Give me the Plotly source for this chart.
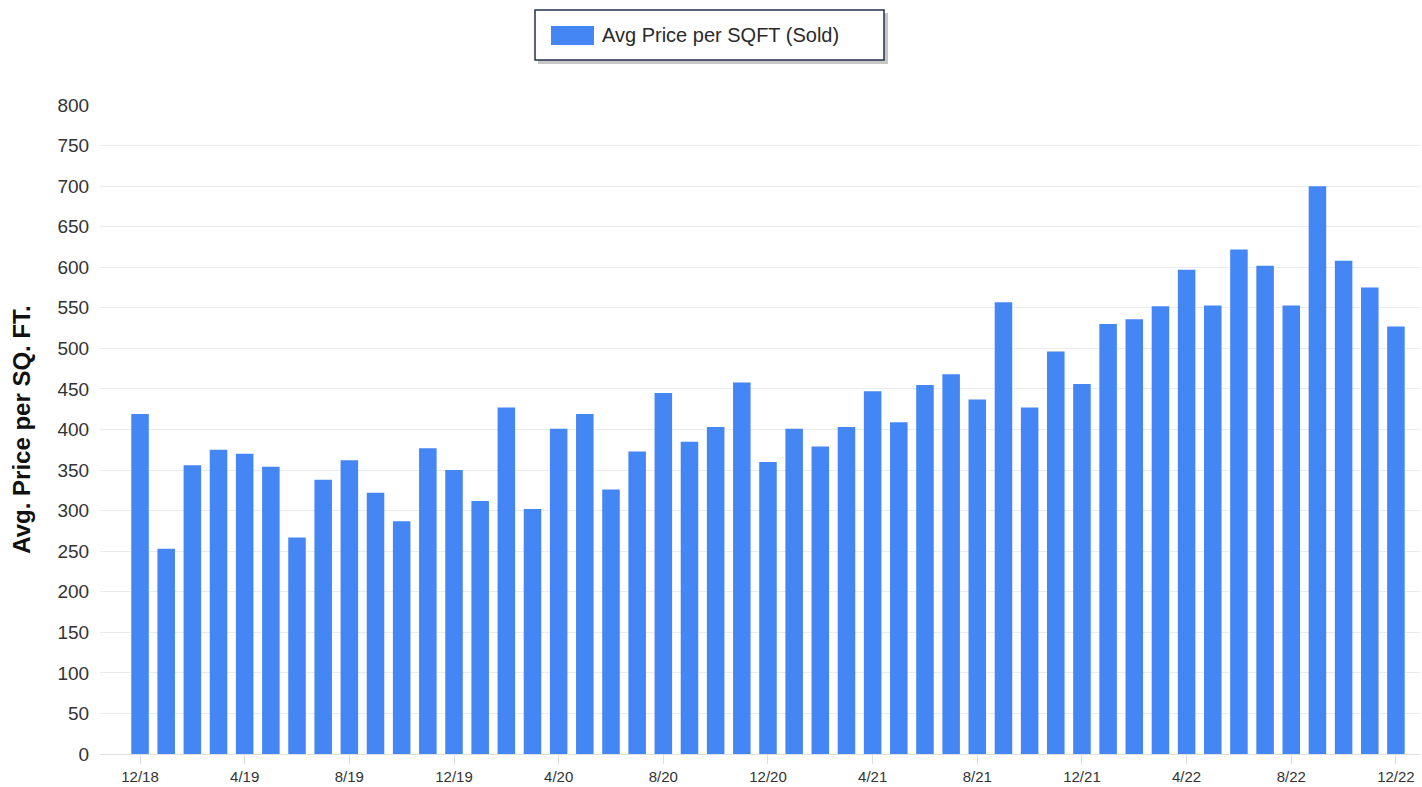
import plotly.graph_objects as go

months = ["12/18", "1/19", "2/19", "3/19", "4/19", "5/19", "6/19", "7/19", "8/19", "9/19", "10/19", "11/19",
          "12/19", "1/20", "2/20", "3/20", "4/20", "5/20", "6/20", "7/20", "8/20", "9/20", "10/20", "11/20",
          "12/20", "1/21", "2/21", "3/21", "4/21", "5/21", "6/21", "7/21", "8/21", "9/21", "10/21", "11/21",
          "12/21", "1/22", "2/22", "3/22", "4/22", "5/22", "6/22", "7/22", "8/22", "9/22", "10/22", "11/22",
          "12/22"]

avg_price_sqft = [419, 253, 356, 375, 370, 354, 267, 338, 362, 322, 287, 377,
                  350, 312, 427, 302, 401, 419, 326, 373, 445, 385, 403, 458,
                  360, 401, 379, 403, 447, 409, 455, 468, 437, 557, 427, 496,
                  456, 530, 536, 552, 597, 553, 622, 602, 553, 700, 608, 575,
                  527]

tick_labels = months[::4]

series_name = "Avg Price per SQFT (Sold)"
y_title = "Avg. Price per SQ. FT."
bar_color = "#4486F4"

W, H = 1422, 787
ML, MR, MT, MB = 100, 2, 105, 33
PW, PH = W - ML - MR, H - MT - MB


def px_x(px):
    return (px - ML) / PW


def px_y(py):
    return (H - MB - py) / PH


fig = go.Figure()
fig.add_trace(go.Bar(
    x=months,
    y=avg_price_sqft,
    name=series_name,
    marker=dict(color=bar_color, line=dict(width=0)),
    width=0.67,
    showlegend=False,
))

# legend box (drawn manually to match the reference's wide swatch and shadow)
shapes = [
    dict(type="rect", xref="paper", yref="paper",
         x0=px_x(538), x1=px_x(888), y0=px_y(64), y1=px_y(13),
         fillcolor="rgba(0,0,0,0.22)", line=dict(width=0), layer="above"),
    dict(type="rect", xref="paper", yref="paper",
         x0=px_x(535), x1=px_x(884), y0=px_y(60), y1=px_y(10),
         fillcolor="white", line=dict(color="#23304F", width=1.5), layer="above"),
    dict(type="rect", xref="paper", yref="paper",
         x0=px_x(551), x1=px_x(594), y0=px_y(45), y1=px_y(26),
         fillcolor=bar_color, line=dict(width=0), layer="above"),
]

annotations = [
    dict(text=series_name, xref="paper", yref="paper",
         x=px_x(600), y=px_y(35.5), xanchor="left", yanchor="middle",
         showarrow=False, font=dict(size=20, color="#2A2A2A",
                                    family="Liberation Sans, Arial, sans-serif")),
]

fig.update_layout(
    width=W,
    height=H,
    plot_bgcolor="white",
    paper_bgcolor="white",
    margin=dict(l=ML, r=MR, t=MT, b=MB),
    font=dict(family="Liberation Sans, Arial, sans-serif", color="#333333"),
    showlegend=False,
    shapes=shapes,
    annotations=annotations,
    xaxis=dict(
        type="category",
        range=[-1.53, 48.92],
        tickmode="array",
        tickvals=tick_labels,
        ticktext=tick_labels,
        tickfont=dict(size=15, color="#333333"),
        showgrid=False,
        showline=True,
        linecolor="#E0E0E0",
        linewidth=1,
        ticks="outside",
        ticklen=9,
        tickcolor="#DDDDDD",
        tickangle=0,
    ),
    yaxis=dict(
        range=[0, 800],
        tickmode="array",
        tickvals=list(range(0, 801, 50)),
        tickfont=dict(size=19, color="#333333"),
        showgrid=True,
        gridcolor="#EBEBEB",
        gridwidth=1,
        zeroline=False,
        ticks="outside",
        ticklen=6,
        tickcolor="rgba(0,0,0,0)",
        title=dict(text=y_title,
                   font=dict(size=24, color="#111111", weight="bold",
                             family="Liberation Sans, Arial, sans-serif"),
                   standoff=20),
    ),
)

fig.write_html("out.html", post_script="document.body.style.margin='0px';",
               config={"displayModeBar": False})
